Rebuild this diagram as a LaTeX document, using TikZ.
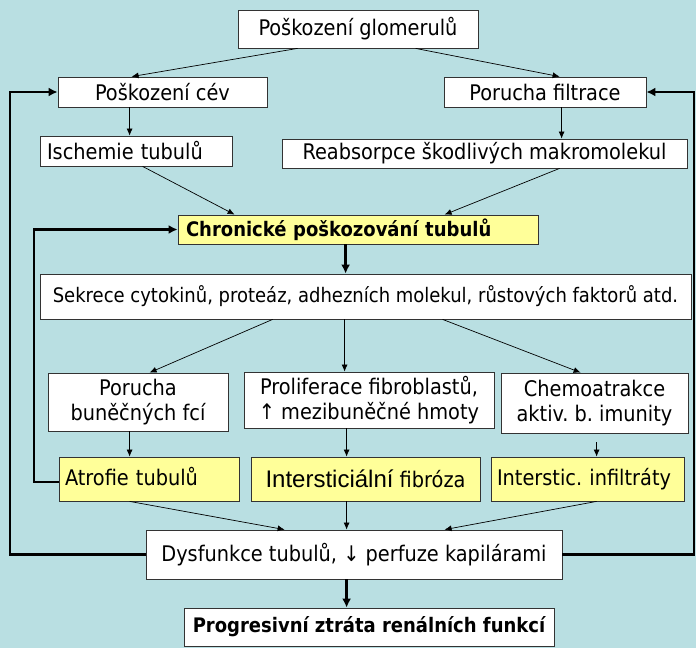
\documentclass[tikz,border=0pt]{standalone}
\usepackage{fontspec}
\setmainfont{DejaVu Sans Condensed}
\newfontfamily\arialf{Liberation Sans}
\usetikzlibrary{arrows.meta,calc}
\definecolor{bgc}{HTML}{B9DFE2}
\definecolor{yel}{HTML}{FFFF99}
\definecolor{bord}{HTML}{333333}
\begin{document}
\begin{tikzpicture}[x=1pt,y=-1pt,
  font=\fontsize{21.5}{25}\selectfont,
  box/.style={draw=bord,line width=0.8pt,fill=white,inner sep=0pt,align=center,text=black},
  ybox/.style={box,fill=yel},
  thin/.style={line width=0.7pt,-{Latex[length=7pt,width=6pt]}},
  thick/.style={line width=2.6pt,-{Latex[length=9pt,width=9pt]}},
  loop/.style={line width=2.6pt,-{Latex[length=9pt,width=9pt]}}]
\useasboundingbox[fill=bgc] (0,0) rectangle (696,648);

\node[box,minimum width=240pt,minimum height=38pt] (glom) at (358,29) {Poškození glomerulů};
\node[box,minimum width=209pt,minimum height=30pt] (cev) at (162.5,92) {Poškození cév};
\node[box,minimum width=202pt,minimum height=30pt] (filt) at (545,92) {Porucha filtrace};
\node[box,minimum width=192pt,minimum height=30pt,text width=178pt,align=left] (isch) at (136,151) {Ischemie tubulů};
\node[box,minimum width=405pt,minimum height=29pt] (reab) at (484.5,153.5) {Reabsorpce škodlivých makromolekul};
\node[ybox,minimum width=360pt,minimum height=29pt,text width=344pt,align=left,font=\fontsize{20}{24}\selectfont\bfseries] (chron) at (358,229.5) {Chronické poškozování tubulů};
\node[box,minimum width=651pt,minimum height=45pt,font=\fontsize{20}{24}\selectfont] (sekr) at (365.5,296.5) {Sekrece cytokinů, proteáz, adhezních molekul, růstových faktorů atd.};
\node[box,minimum width=180pt,minimum height=58pt] (por) at (138,402) {Porucha\\buněčných fcí};
\node[box,minimum width=250pt,minimum height=56pt] (prol) at (369,400) {Proliferace fibroblastů,\\↑ mezibuněčné hmoty};
\node[box,minimum width=187pt,minimum height=60pt] (chemo) at (594.5,403) {Chemoatrakce\\aktiv.\ b.\ imunity};
\node[ybox,minimum width=180pt,minimum height=44pt,text width=168pt,align=left] (atro) at (149,479) {Atrofie tubulů\vphantom{g}\\[-4pt]};
\node[ybox,minimum width=229pt,minimum height=44pt] (fibr) at (365.5,479) {{\arialf\fontsize{24}{26}\selectfont Intersticiální} fibróza};
\node[ybox,minimum width=193pt,minimum height=44pt,text width=181pt,align=left] (infil) at (587.5,479) {Interstic.\ infiltráty\vphantom{g}\\[-4pt]};
\node[box,minimum width=416pt,minimum height=49pt] (dys) at (354,554.5) {Dysfunkce tubulů, ↓ perfuze kapilárami};
\node[box,minimum width=370pt,minimum height=38pt,font=\fontsize{20}{24}\selectfont\bfseries] (prog) at (369,627) {Progresivní ztráta renálních funkcí};

\coordinate (lo) at (10,0);
\coordinate (ro) at (694,0);
\coordinate (li) at (34,0);

\draw[thin] ([xshift=60pt]glom.south west) -- ([xshift=74pt]cev.north west);
\draw[thin] ([xshift=178pt]glom.south west) -- ([xshift=116pt]filt.north west);
\draw[thin] ([xshift=72pt]cev.south west) -- ([xshift=72pt]cev.south west |- isch.north);
\draw[thin] ([xshift=118pt]filt.south west) -- ([xshift=118pt]filt.south west |- reab.north);
\draw[thin] ([xshift=103pt]isch.south west) -- ([xshift=57pt]chron.north west);
\draw[thin] ([xshift=278pt]reab.south west) -- ([xshift=267pt]chron.north west);
\draw[thick] ([xshift=168pt]chron.south west) -- ([xshift=168pt]chron.south west |- sekr.north);
\draw[thin] ([xshift=233pt]sekr.south west) -- ([xshift=102pt]por.north west);
\draw[thin] ([xshift=305pt]sekr.south west) -- ([xshift=305pt]sekr.south west |- prol.north);
\draw[thin] ([xshift=403pt]sekr.south west) -- ([xshift=80pt]chemo.north west);
\draw[thin] ([xshift=82pt]por.south west) -- ([xshift=82pt]por.south west |- atro.north);
\draw[thin] ([xshift=103pt]prol.south west) -- ([xshift=103pt]prol.south west |- fibr.north);
\draw[thin] ([xshift=96pt,yshift=-9pt]chemo.south west) -- ([xshift=96pt]chemo.south west |- infil.north);
\draw[thin] ([xshift=71pt]atro.south west) -- ([xshift=139pt]dys.north west);
\draw[thin] ([xshift=96pt]fibr.south west) -- ([xshift=96pt]fibr.south west |- dys.north);
\draw[thin] ([xshift=106pt]infil.south west) -- ([xshift=299pt]dys.north west);
\draw[thick] ([xshift=201pt]dys.south west) -- ([xshift=201pt]dys.south west |- prog.north);

\draw[loop] (dys.west) -- (dys.west -| lo) |- (cev.west);
\draw[loop] (dys.east) -- (dys.east -| ro) |- (filt.east);
\draw[loop] ([yshift=-3pt]atro.west) -- ([yshift=-3pt]atro.west -| li) |- (chron.west);
\end{tikzpicture}
\end{document}
